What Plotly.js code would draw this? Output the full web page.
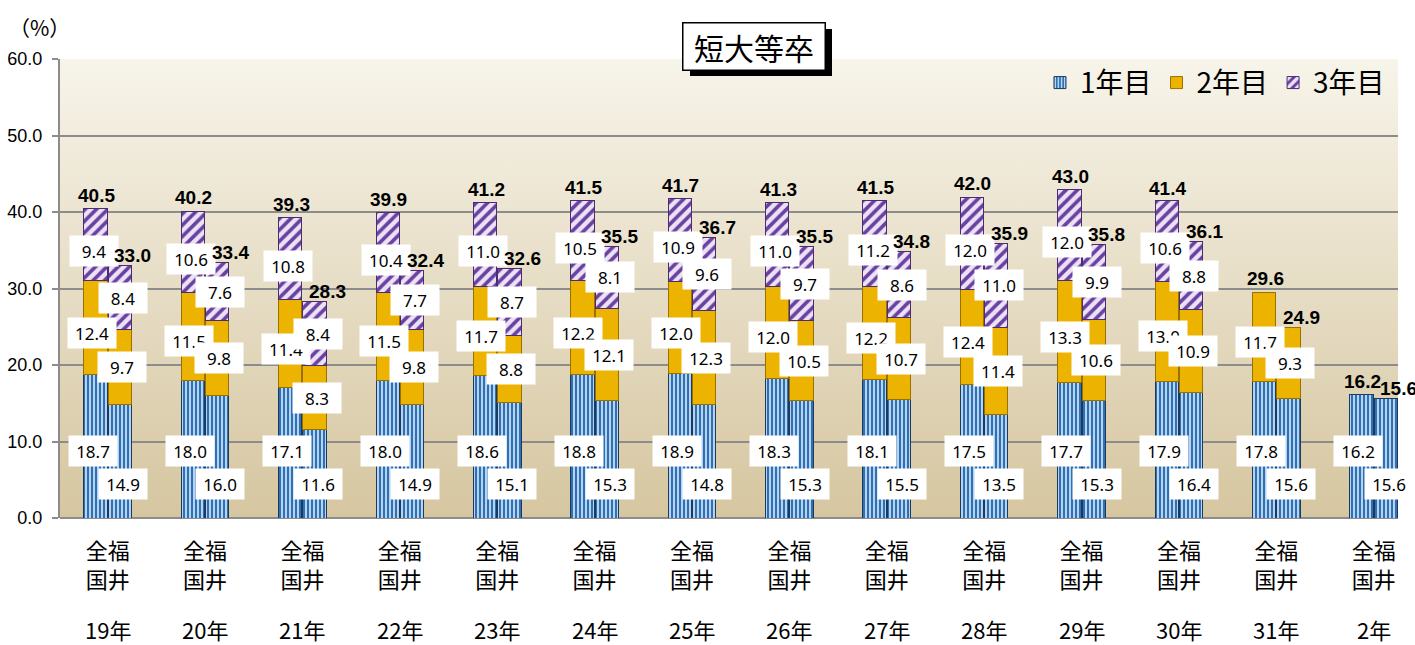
<!DOCTYPE html>
<html>
<head>
<meta charset="utf-8">
<script src="https://cdn.plot.ly/plotly-3.0.1.min.js"></script>
<style>html,body{margin:0;padding:0;background:#fff;}#chart{width:1415px;height:645px;}</style>
</head>
<body>
<div id="chart"></div>
<script>
// ---- data ----
const years = ['19年','20年','21年','22年','23年','24年','25年','26年','27年','28年','29年','30年','31年','2年'];
const seriesNames = ['1年目','2年目','3年目'];
const groupNames = ['全国','福井'];
// 全国
const nat1 = [18.7,18.0,17.1,18.0,18.6,18.8,18.9,18.3,18.1,17.5,17.7,17.9,17.8,16.2];
const nat2 = [12.4,11.5,11.4,11.5,11.7,12.2,12.0,12.0,12.2,12.4,13.3,13.0,11.7,null];
const nat3 = [9.4,10.6,10.8,10.4,11.0,10.5,10.9,11.0,11.2,12.0,12.0,10.6,null,null];
const natTotal = [40.5,40.2,39.3,39.9,41.2,41.5,41.7,41.3,41.5,42.0,43.0,41.4,29.6,16.2];
// 福井
const fk1 = [14.9,16.0,11.6,14.9,15.1,15.3,14.8,15.3,15.5,13.5,15.3,16.4,15.6,15.6];
const fk2 = [9.7,9.8,8.3,9.8,8.8,12.1,12.3,10.5,10.7,11.4,10.6,10.9,9.3,null];
const fk3 = [8.4,7.6,8.4,7.7,8.7,8.1,9.6,9.7,8.6,11.0,9.9,8.8,null,null];
const fkTotal = [33.0,33.4,28.3,32.4,32.6,35.5,36.7,35.5,34.8,35.9,35.8,36.1,24.9,15.6];

// ---- layout helpers ----
const OFF = 0.125, BW = 0.24;
const xs = [], groupX = [], tickText = [];
// the two names are written vertically under their bars: 全|福 on the first row, 国|井 on the second
const verticalPair = groupNames[0][0] + groupNames[1][0] + '<br>' + groupNames[0][1] + groupNames[1][1];
years.forEach((y, i) => { xs.push(i - OFF, i + OFF); groupX.push(i); tickText.push(verticalPair); });
function interleave(a, b) { const r = []; a.forEach((v, i) => { r.push(v, b[i]); }); return r; }

const s1 = interleave(nat1, fk1), s2 = interleave(nat2, fk2), s3 = interleave(nat3, fk3);

const styles = [
  {color:'#2f6fb3', pattern:{shape:'|', bgcolor:'#2f6fb3', fgcolor:'#cfe7fb', size:4, solidity:0.42}, line:{color:'#1b3a5e', width:1}},
  {color:'#ecb300', line:{color:'#9a7000', width:1}},
  {color:'#6a40a0', pattern:{shape:'/', bgcolor:'#6a40a0', fgcolor:'#ebe3f5', size:8, solidity:0.55}, line:{color:'#4a2d70', width:1}}
];
const traces = [s1, s2, s3].map((vals, k) => ({
  type:'bar', x:xs, y:vals, width:BW, name:seriesNames[k],
  marker: styles[k], hoverinfo:'y'
}));

const ann = [];
const boxFont = {family:'Noto Sans, Liberation Sans, sans-serif', size:17, color:'#000'};
function box(x, y, v, opts) {
  if (v === null || v === undefined) return;
  ann.push(Object.assign({x:x, y:y, xref:'x', yref:'y', text:v.toFixed(1), showarrow:false,
    bgcolor:'#ffffff', width:48, height:30, borderpad:0, font:boxFont}, opts));
}
years.forEach((yr, i) => {
  const xn = i - OFF, xf = i + OFF;
  // 1年目 (anchored at the bar base)
  box(xn, 0, nat1[i], {yanchor:'bottom', yshift:51, xshift:-3});
  box(xf, 0, fk1[i], {yanchor:'bottom', yshift:18, xshift:3});
  // 2年目
  if (nat2[i] !== null) box(xn, nat1[i] + nat2[i] / 2, nat2[i], {yshift:-5, xshift:-4});
  if (fk2[i] !== null) box(xf, fk1[i] + fk2[i] / 2, fk2[i], {xshift:2});
  // 3年目
  if (nat3[i] !== null) box(xn, nat1[i] + nat2[i] + nat3[i] / 2, nat3[i], {yshift:-7, xshift:-2});
  if (fk3[i] !== null) box(xf, fk1[i] + fk2[i] + fk3[i] / 2, fk3[i], {xshift:3});
  // totals
  const tf = {family:'Liberation Sans, Arial, sans-serif', size:19, color:'#000', weight:'bold'};
  ann.push({x:xn, y:natTotal[i], xref:'x', yref:'y', text:'<b>' + natTotal[i].toFixed(1) + '</b>',
    showarrow:false, yanchor:'middle', yshift:13, xshift:1, font:tf});
  ann.push({x:xf, y:fkTotal[i], xref:'x', yref:'y', text:'<b>' + fkTotal[i].toFixed(1) + '</b>',
    showarrow:false, yanchor:'middle', yshift:10, xshift:13, font:tf});
  // year labels
  ann.push({x:i, y:-0.242, xref:'x', yref:'paper', text:yr, showarrow:false, yanchor:'middle',
    font:{family:'Noto Sans CJK JP, sans-serif', size:22, color:'#000'}});
});
// unit label
ann.push({x:-0.015, y:1.07, xref:'paper', yref:'paper', text:'（%）', showarrow:false,
  xanchor:'center', yanchor:'middle', font:{family:'Noto Sans CJK JP, sans-serif', size:21, color:'#000'}});
// title box
ann.push({x:0.519, y:1.028, xref:'paper', yref:'paper', text:'短大等卒', showarrow:false,
  xanchor:'center', yanchor:'middle', width:141, height:46, bgcolor:'#ffffff',
  bordercolor:'#000000', borderwidth:1.5, borderpad:0,
  font:{family:'Noto Sans CJK JP, sans-serif', size:30, color:'#000'}});

const W = 1415, H = 645, ml = 60, mr = 17, mt = 59, mb = 127;
const pw = W - ml - mr, ph = H - mt - mb;
function px(xp) { return (xp - ml) / pw; }
function py(yp) { return 1 - (yp - mt) / ph; }

const gradSvg = '<svg xmlns="http://www.w3.org/2000/svg" width="100" height="100" preserveAspectRatio="none">' +
  '<defs><linearGradient id="g" x1="0" y1="0" x2="0" y2="1">' +
  '<stop offset="0" stop-color="#f7f4ea"/><stop offset="1" stop-color="#d6c6a0"/></linearGradient></defs>' +
  '<rect width="100" height="100" fill="url(#g)"/></svg>';

const layout = {
  width: W, height: H,
  margin: {l: ml, r: mr, t: mt, b: mb, pad: 0},
  paper_bgcolor: '#ffffff',
  plot_bgcolor: 'rgba(0,0,0,0)',
  barmode: 'stack',
  showlegend: true,
  legend: {orientation:'h', x:0.994, xanchor:'right', y:0.948, yanchor:'middle',
    bgcolor:'rgba(0,0,0,0)', font:{family:'Noto Sans CJK JP, sans-serif', size:28, color:'#000'},
    traceorder:'normal', itemwidth:30},
  xaxis: {range:[-0.49, 13.25], tickmode:'array', tickvals:groupX, ticktext:tickText, tickangle:0,
    showgrid:false, zeroline:false, showline:false, ticks:'', ticklabelstandoff:18,
    tickfont:{family:'Noto Sans CJK JP, sans-serif', size:22, color:'#000'}, fixedrange:true},
  yaxis: {range:[0, 60], dtick:10, tickformat:'.1f', showgrid:true, gridcolor:'#8c8c8c', gridwidth:2,
    zeroline:true, zerolinecolor:'#8c8c8c', zerolinewidth:2,
    showline:true, linecolor:'#8c8c8c', linewidth:2, ticks:'outside', ticklen:6, tickwidth:2, tickcolor:'#8c8c8c',
    ticklabelstandoff:6,
    tickfont:{family:'Liberation Sans, Arial, sans-serif', size:18, color:'#000'}, fixedrange:true},
  images: [{source:'data:image/svg+xml;charset=utf-8,' + encodeURIComponent(gradSvg),
    xref:'paper', yref:'paper', x:0, y:1, sizex:1, sizey:1, xanchor:'left', yanchor:'top',
    sizing:'stretch', layer:'below'}],
  shapes: [{type:'rect', xref:'paper', yref:'paper', x0:px(690), x1:px(832), y0:py(29), y1:py(76),
    fillcolor:'#000000', line:{width:0}, layer:'above'}],
  annotations: ann
};

Plotly.newPlot('chart', traces, layout, {displayModeBar:false, staticPlot:true});
</script>
</body>
</html>
